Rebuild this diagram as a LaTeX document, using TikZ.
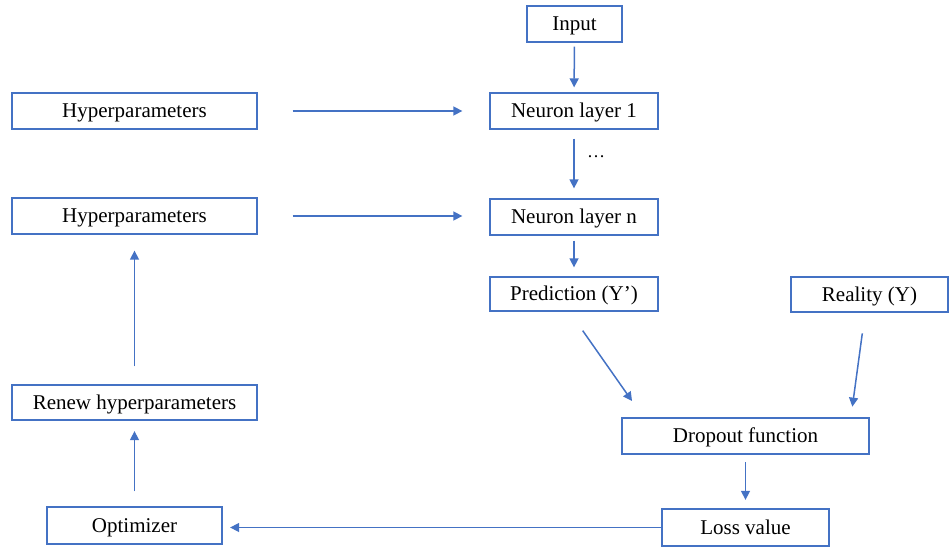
\documentclass[tikz,border=0pt]{standalone}
\usepackage{fontspec}
\setmainfont{Liberation Serif}
\usetikzlibrary{arrows.meta,calc}
\definecolor{boxblue}{RGB}{68,114,196}
\tikzset{
  box/.style={draw=boxblue, line width=1.3pt, minimum height=36pt, inner sep=0pt, text height=15pt, text depth=2pt, font=\fontsize{21}{24}\selectfont, text=black},
  arr/.style={draw=boxblue, line width=1.5pt, -{Triangle[length=9pt,width=9pt]}},
}
\begin{document}
\begin{tikzpicture}[x=1pt,y=-1pt]
\useasboundingbox (0,0) rectangle (950,548);
\node[box, minimum width=95pt] (input) at (574.5,24) {Input};
\node[box, minimum width=168pt] (nl1) at (574,111) {Neuron layer 1};
\node[box, minimum width=168pt] (nln) at (574,217) {Neuron layer n};
\node[box, minimum width=168pt, minimum height=34pt] (pred) at (574,294) {Prediction (Y’)};
\node[box, minimum width=157pt, minimum height=35pt] (real) at (869.5,294.5) {Reality (Y)};
\node[box, minimum width=247pt] (drop) at (745.5,436) {Dropout function};
\node[box, minimum width=167pt, minimum height=37pt] (loss) at (745.5,527.5) {Loss value};
\node[box, minimum width=175pt, minimum height=37pt] (opt) at (134.5,525.5) {Optimizer};
\node[box, minimum width=245pt, minimum height=35pt] (renew) at (134.5,402.5) {Renew hyperparameters};
\node[box, minimum width=245pt] (hyp2) at (134.5,216) {Hyperparameters};
\node[box, minimum width=245pt] (hyp1) at (134.5,111) {Hyperparameters};

\draw[arr, shorten <=4pt, shorten >=5pt] (input) -- (nl1);
\draw[arr, shorten <=9pt, shorten >=10pt] (nl1) -- node[right=9pt, font=\fontsize{18}{20}\selectfont, text=black, pos=0.4] (dots) {…} (nln);
\draw[arr, shorten <=5pt, shorten >=9pt] (nln) -- (pred);
\draw[arr, shorten <=35pt, shorten >=27pt] (hyp1.east) -- (nl1.west |- hyp1.east);
\draw[arr, shorten <=35pt, shorten >=27pt] (hyp2.east) -- (nln.west |- hyp2.east);
\draw[arr] ([xshift=8.7pt,yshift=-19pt]pred.south) -- ([xshift=10.7pt,yshift=16.3pt]drop.north west);
\draw[arr] ([xshift=-7.2pt,yshift=-20.7pt]real.south) -- ([xshift=-17.3pt,yshift=10.7pt]drop.north east);
\draw[arr, shorten <=7.5pt, shorten >=8.5pt] (drop) -- (loss);
\draw[arr, shorten >=7.5pt] (loss.west) -- (opt.east |- loss.west);
\draw[arr, shorten <=15pt, shorten >=10.5pt] (opt) -- (renew);
\draw[arr, shorten <=18pt, shorten >=16pt] (renew) -- (hyp2);
\end{tikzpicture}
\end{document}
